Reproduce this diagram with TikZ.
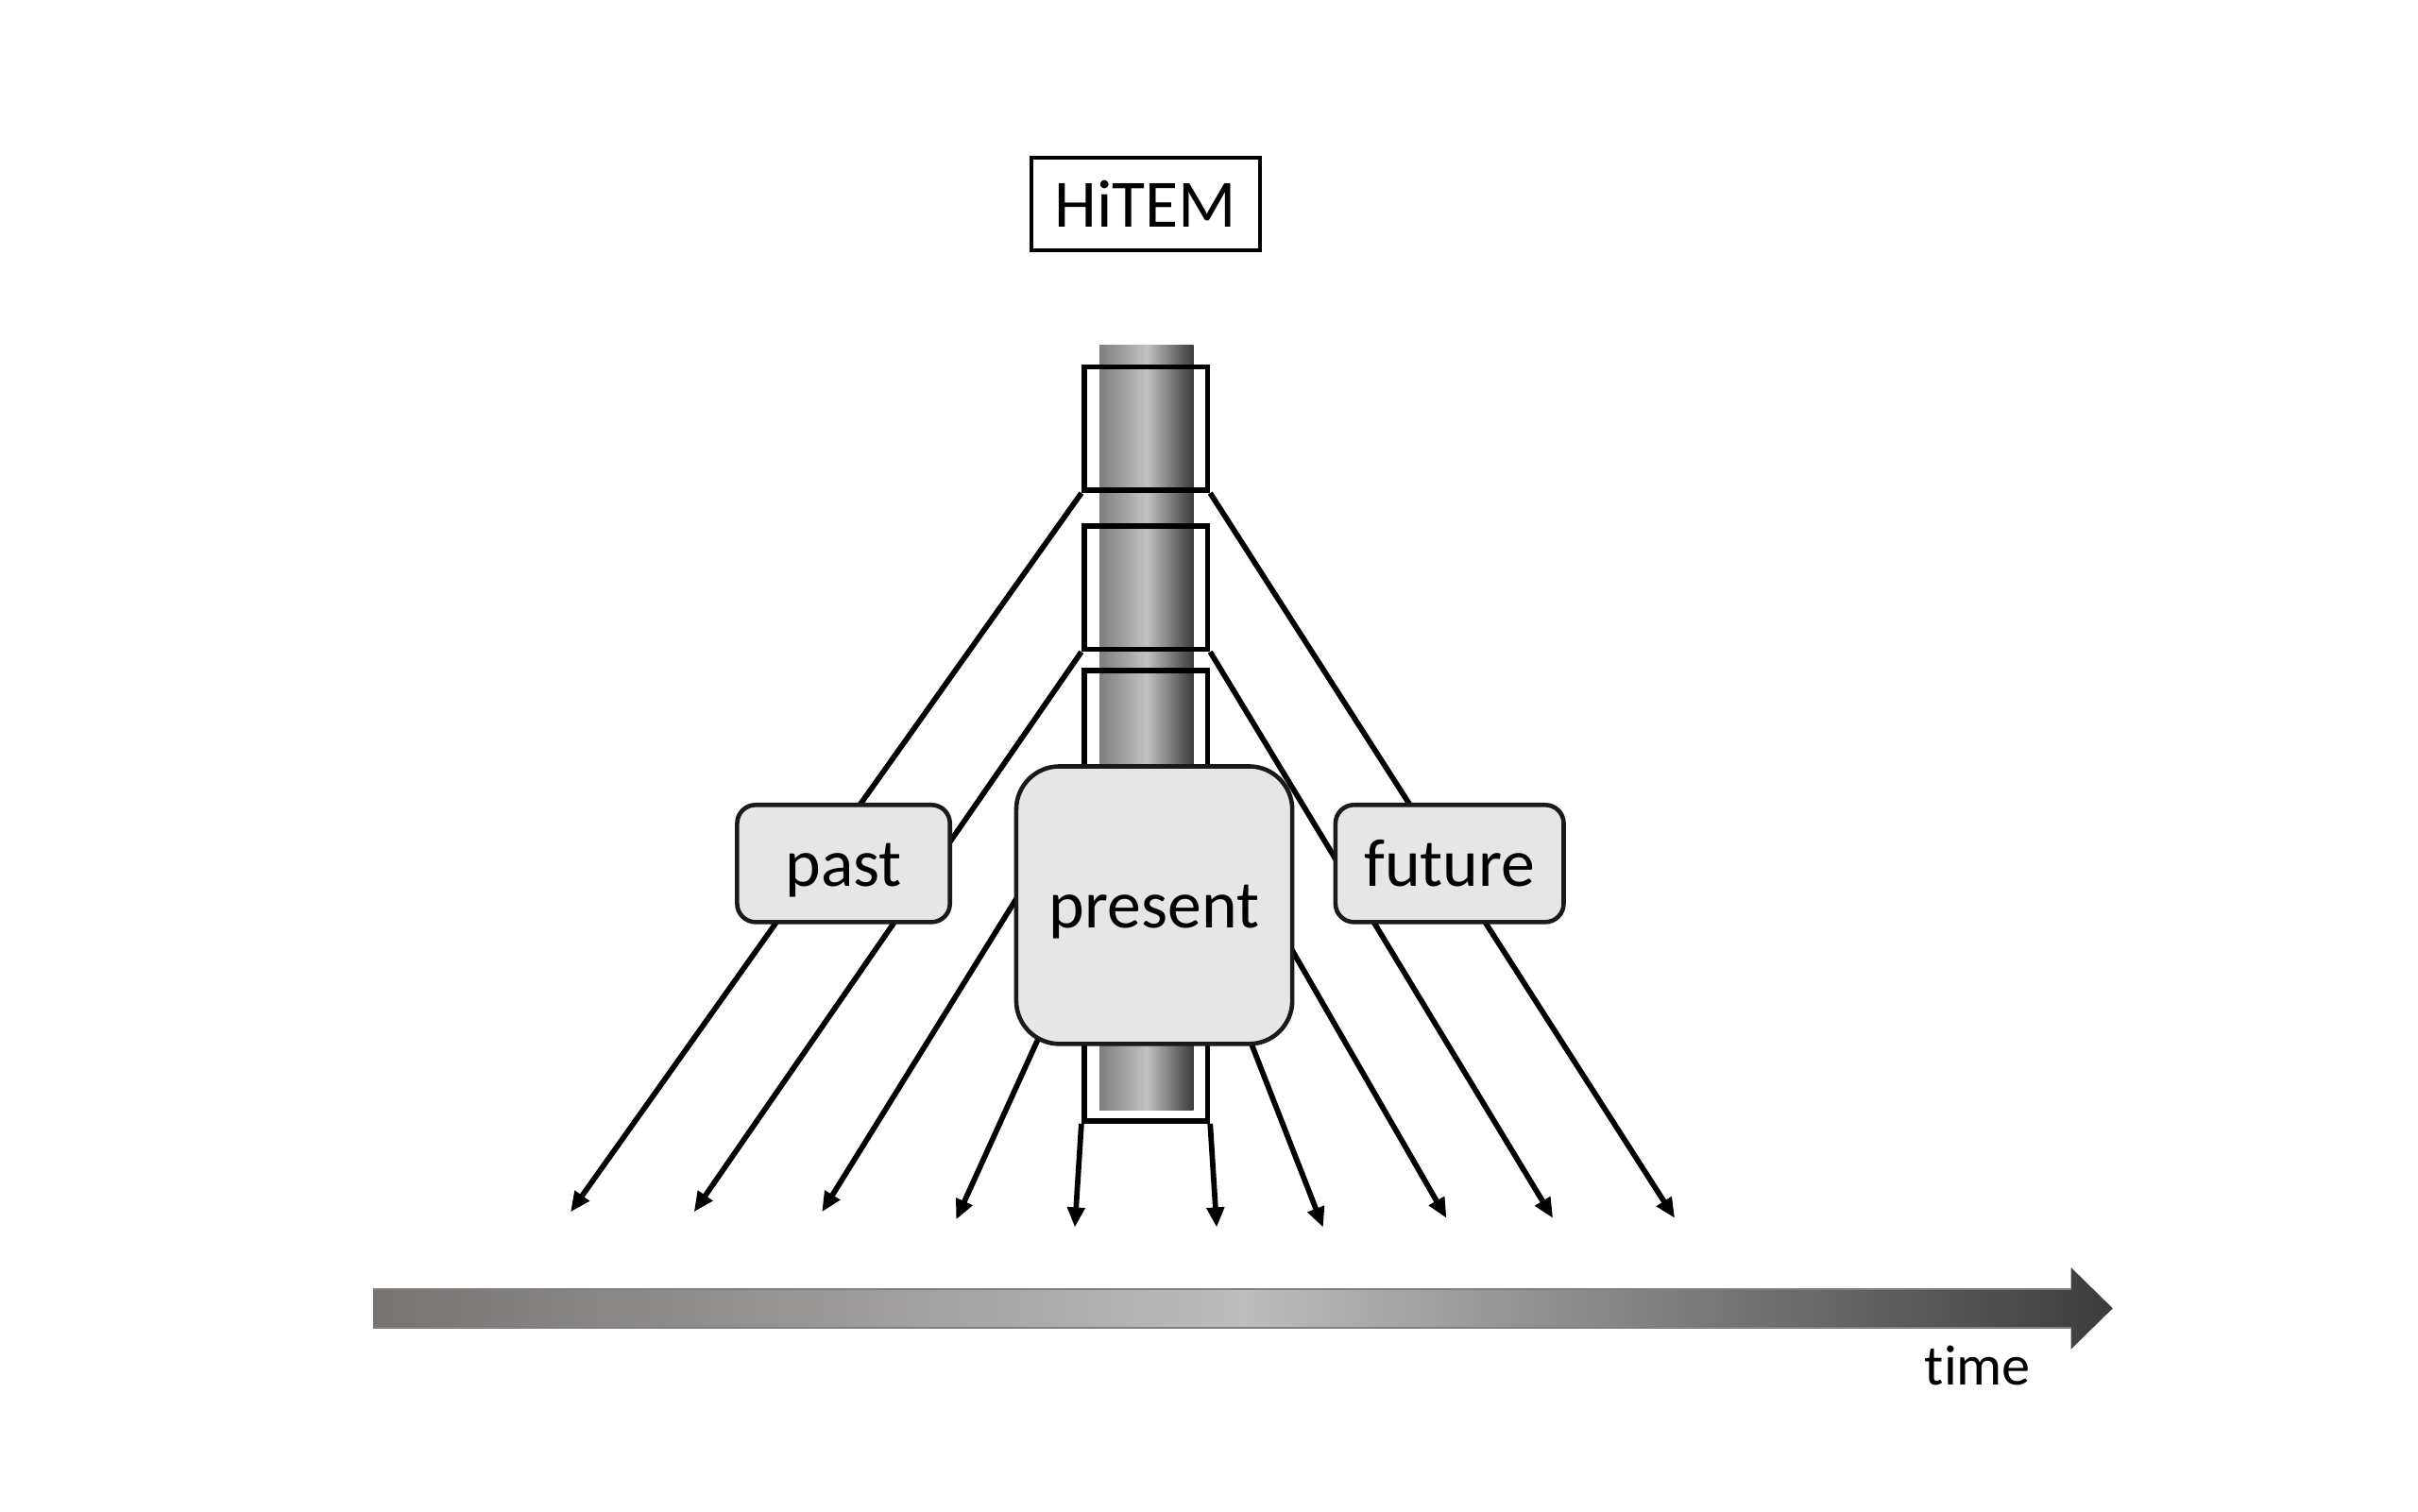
\documentclass[tikz,border=0pt]{standalone}
\usepackage{fontspec}
\setmainfont{Carlito}[Ligatures=NoCommon]
\usetikzlibrary{positioning, arrows.meta}
\definecolor{HitemBox}{HTML}{E6E6E6}
\definecolor{HitemLine}{HTML}{1A1A1A}
\definecolor{ShaftLeft}{HTML}{7E7E7E}
\definecolor{ShaftMid}{HTML}{C2C2C2}
\definecolor{ShaftDark}{HTML}{3A3A3A}
\definecolor{TimeLeft}{HTML}{767371}
\definecolor{TimeMid}{HTML}{BDBDBD}
\definecolor{TimeRight}{HTML}{3C3C3C}

\begin{document}
\begin{tikzpicture}[
  frame/.style={draw, line width=1pt, minimum width=0.80cm, inner sep=0pt},
  phase/.style={draw=HitemLine, fill=HitemBox, line width=0.8pt, rounded corners=0.12cm, minimum height=0.76cm, inner sep=0pt, text height=0.39cm, text depth=0.09cm, font=\fontsize{12.5}{15}\selectfont},
  ray/.style={line width=1pt, -{Triangle[length=1.3mm, width=1.1mm]}}
]
\useasboundingbox (0,0) rectangle (15.68,-9.80);

% Title
\node[draw, line width=0.7pt, minimum width=1.48cm, minimum height=0.60cm, font=\fontsize{12.5}{15}\selectfont] (hitem) at (7.43,-1.32) {HiTEM};

% Shaft
\shade[left color=ShaftLeft, right color=ShaftDark, middle color=ShaftMid] (7.13,-2.24) rectangle (7.74,-7.20);

% Frames
\node[frame, minimum height=0.80cm] (f1) at (7.43,-2.78) {};
\node[frame, minimum height=0.80cm] (f2) at (7.43,-3.81) {};
\node[frame, minimum height=2.92cm] (f3) at (7.43,-5.81) {};

% Ends of the rays
\coordinate (s3) at (7.03,-5.12);
\coordinate (s4) at (7.03,-6.08);
\coordinate (s7) at (7.83,-6.04);
\coordinate (s8) at (7.83,-5.21);
\coordinate (t1) at (3.70,-7.86);
\coordinate (t2) at (4.50,-7.86);
\coordinate (t3) at (5.33,-7.86);
\coordinate (t4) at (6.20,-7.91);
\coordinate (t5) at (6.97,-7.96);
\coordinate (t6) at (7.89,-7.96);
\coordinate (t7) at (8.58,-7.96);
\coordinate (t8) at (9.38,-7.90);
\coordinate (t9) at (10.07,-7.90);
\coordinate (t10) at (10.86,-7.90);

% Rays
\draw[ray] (f1.south west) -- (t1);
\draw[ray] (f2.south west) -- (t2);
\draw[ray] (s3) -- (t3);
\draw[ray] (s4) -- (t4);
\draw[ray] (f3.south west) -- (t5);
\draw[ray] (f3.south east) -- (t6);
\draw[ray] (s7) -- (t7);
\draw[ray] (s8) -- (t8);
\draw[ray] (f2.south east) -- (t9);
\draw[ray] (f1.south east) -- (t10);

% Phases
\node[phase, minimum width=1.38cm] (past) at (5.47,-5.60) {past};
\node[phase, minimum width=1.79cm, minimum height=1.80cm, rounded corners=0.28cm] (present) at (7.485,-5.87) {present};
\node[phase, minimum width=1.48cm] (future) at (9.40,-5.60) {future};

% Time axis
\shade[left color=TimeLeft, right color=TimeRight, middle color=TimeMid]
  (2.42,-8.36) -- (13.43,-8.36) -- (13.43,-8.22) -- (13.70,-8.485)
  -- (13.43,-8.75) -- (13.43,-8.61) -- (2.42,-8.61) -- cycle;
\draw[black!50, line width=0.4pt] (2.42,-8.36) -- (13.43,-8.36);
\draw[black!50, line width=0.4pt] (2.42,-8.61) -- (13.43,-8.61);
\node[anchor=base, font=\fontsize{10.5}{12}\selectfont] (time) at (12.825,-8.98) {time};
\end{tikzpicture}
\end{document}
